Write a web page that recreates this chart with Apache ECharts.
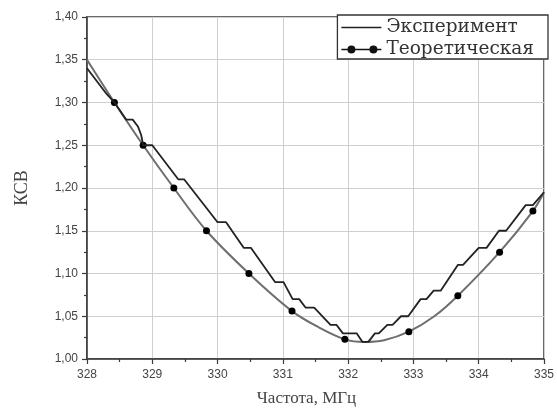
<!DOCTYPE html>
<html>
<head>
<meta charset="utf-8">
<script src="https://cdn.jsdelivr.net/npm/echarts@6/dist/echarts.min.js"></script>
<style>
  html, body { margin: 0; padding: 0; background: #fff; }
  #chart { width: 557px; height: 412px; }
</style>
</head>
<body>
<div id="chart"></div>
<script>
// Measured VSWR (stepped readings, 0.01 resolution)
const expFreq = [328.00, 328.30, 328.42, 328.60, 328.70, 328.78, 328.83, 328.86, 329.00, 329.40,
                 329.49, 330.00, 330.13, 330.40, 330.51, 330.88, 331.01, 331.15, 331.25, 331.35,
                 331.48, 331.73, 331.82, 331.92, 332.13, 332.22, 332.31, 332.41, 332.47, 332.60,
                 332.68, 332.81, 332.92, 333.11, 333.20, 333.31, 333.42, 333.68, 333.76, 334.00,
                 334.12, 334.31, 334.42, 334.72, 334.83, 335.00];
const expKsv  = [1.340, 1.310, 1.300, 1.280, 1.280, 1.272, 1.262, 1.250, 1.250, 1.210,
                 1.210, 1.160, 1.160, 1.130, 1.130, 1.090, 1.090, 1.070, 1.070, 1.060,
                 1.060, 1.040, 1.040, 1.030, 1.030, 1.020, 1.020, 1.030, 1.030, 1.040,
                 1.040, 1.050, 1.050, 1.070, 1.070, 1.080, 1.080, 1.110, 1.110, 1.130,
                 1.130, 1.150, 1.150, 1.180, 1.180, 1.195];

// Theoretical VSWR curve; marked points carry a dot
const theoFreq   = [328.00, 328.42, 328.86, 329.33, 329.83, 330.48, 331.14, 331.55, 331.95, 332.25,
                    332.55, 332.93, 333.32, 333.68, 334.32, 334.83, 335.00];
const theoKsv    = [1.350, 1.300, 1.250, 1.200, 1.150, 1.100, 1.056, 1.037, 1.023, 1.020,
                    1.022, 1.032, 1.050, 1.074, 1.125, 1.173, 1.195];
const theoMarked = [false, true, true, true, true, true, true, false, true, false,
                    false, true, false, true, true, true, false];

const seriesNames = ['Эксперимент', 'Теоретическая'];
const xName = 'Частота, МГц';
const yName = 'КСВ';

const expData = expFreq.map((f, i) => [f, expKsv[i]]);
const theoData = theoFreq.map((f, i) => theoMarked[i]
  ? { value: [f, theoKsv[i]] }
  : { value: [f, theoKsv[i]], symbol: 'none' });

// Legend glyphs (40 x 8 box): plain line, and line with two dots
const iconLine = 'path://M0,0M0,8M0,3.2H40V4.8H0Z';
const iconLineDots = 'path://M0,3.2H40V4.8H0Z M6,4a4,4 0 1,1 8,0a4,4 0 1,1 -8,0Z M28,4a4,4 0 1,1 8,0a4,4 0 1,1 -8,0Z';

const axisColor = '#3a3a3a';
const labelStyle = { fontFamily: 'Liberation Sans', fontSize: 12, color: '#444' };

const chart = echarts.init(document.getElementById('chart'), null, { renderer: 'canvas' });
chart.setOption({
  animation: false,
  backgroundColor: '#fff',
  grid: {
    left: 87, right: 10, top: 17, bottom: 52,
    show: true, borderColor: axisColor, borderWidth: 1.5, backgroundColor: 'transparent'
  },
  legend: {
    orient: 'vertical',
    right: 9, top: 15,
    itemWidth: 40, itemHeight: 8, itemGap: 3,
    padding: [3, 14, 0, 4],
    borderColor: '#333', borderWidth: 1.3, backgroundColor: '#fff',
    textStyle: { fontFamily: 'DejaVu Serif', fontSize: 18.5, color: '#333', lineHeight: 18 },
    data: [
      { name: seriesNames[0], icon: iconLine, itemStyle: { color: '#222' } },
      { name: seriesNames[1], icon: iconLineDots, itemStyle: { color: '#111' } }
    ]
  },
  xAxis: {
    type: 'value', min: 328, max: 335, interval: 1,
    name: xName, nameLocation: 'middle', nameGap: 31,
    nameTextStyle: { fontFamily: 'Liberation Serif', fontSize: 17, color: '#444', padding: [0, 18, 0, 0] },
    axisLine: { show: true, lineStyle: { color: axisColor, width: 1.5 } },
    axisTick: { show: true, length: 5, lineStyle: { color: axisColor, width: 1.2 } },
    minorTick: { show: true, splitNumber: 2, length: 3, lineStyle: { color: axisColor, width: 1.2 } },
    axisLabel: Object.assign({ margin: 10 }, labelStyle),
    splitLine: { show: true, lineStyle: { color: '#cfcfcf', width: 1 } }
  },
  yAxis: {
    type: 'value', min: 1.0, max: 1.4, interval: 0.05,
    name: yName, nameLocation: 'middle', nameGap: 56,
    nameTextStyle: { fontFamily: 'Liberation Serif', fontSize: 18, color: '#444' },
    axisLine: { show: true, lineStyle: { color: axisColor, width: 1.5 } },
    axisTick: { show: true, length: 5, lineStyle: { color: axisColor, width: 1.2 } },
    minorTick: { show: true, splitNumber: 2, length: 3, lineStyle: { color: axisColor, width: 1.2 } },
    axisLabel: Object.assign({
      margin: 9,
      formatter: v => v.toFixed(2).replace('.', ',')
    }, labelStyle),
    splitLine: { show: true, lineStyle: { color: '#cfcfcf', width: 1 } }
  },
  series: [
    {
      name: seriesNames[1],
      type: 'line',
      data: theoData,
      smooth: 0.35,
      symbol: 'circle',
      symbolSize: 7,
      showAllSymbol: true,
      lineStyle: { color: '#6e6e6e', width: 2 },
      itemStyle: { color: '#000', borderWidth: 0 },
      z: 2
    },
    {
      name: seriesNames[0],
      type: 'line',
      data: expData,
      symbol: 'none',
      lineStyle: { color: '#222', width: 1.8 },
      itemStyle: { color: '#222' },
      z: 3
    }
  ]
});
</script>
</body>
</html>
